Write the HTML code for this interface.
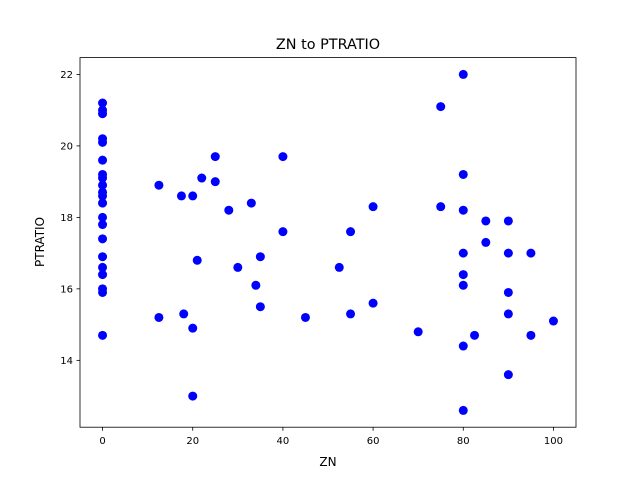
<!DOCTYPE html>
<html><head><meta charset="utf-8">
<style>
body{margin:0;background:#fff;}
svg{display:block;font-family:"DejaVu Sans","Liberation Sans",sans-serif;}
</style></head>
<body>
<svg id="chart" width="640" height="480" viewBox="0 0 640 480">
<rect width="640" height="480" fill="#fff"/>
<text x="328" y="49" font-size="14.4" text-anchor="middle">ZN to PTRATIO</text>
<g id="ticks"></g>
<g id="points"></g>
<rect x="80" y="57.6" width="496" height="369.6" fill="none" stroke="#000" stroke-width="0.8"/>
<text x="328" y="466" font-size="12" text-anchor="middle">ZN</text>
<text x="0" y="0" font-size="12" text-anchor="middle" transform="translate(44,242) rotate(-90)">PTRATIO</text>
</svg>
<script>
const xVals=[0,0,0,0,0,0,0,0,0,0,0,0,0,0,0,0,0,0,0,0,0,12.5,12.5,17.5,18,20,20,20,21,22,25,25,28,30,33,34,35,35,40,40,45,52.5,55,55,60,60,70,75,75,80,80,80,80,80,80,80,80,82.5,85,85,90,90,90,90,90,95,95,100];
const yVals=[21.2,21.0,20.9,20.2,20.1,19.6,19.2,19.1,18.9,18.7,18.6,18.4,18.0,17.8,17.4,16.9,16.6,16.4,16.0,15.9,14.7,18.9,15.2,18.6,15.3,18.6,14.9,13.0,16.8,19.1,19.7,19.0,18.2,16.6,18.4,16.1,16.9,15.5,19.7,17.6,15.2,16.6,17.6,15.3,18.3,15.6,14.8,21.1,18.3,22.0,19.2,18.2,17.0,16.4,16.1,14.4,12.6,14.7,17.9,17.3,17.9,17.0,15.9,15.3,13.6,17.0,14.7,15.1];
const xTicks=[0,20,40,60,80,100];
const yTicks=[14,16,18,20,22];
const X0=80,X1=576,Y0=427.2,Y1=57.6,xMin=-5,xMax=105,yMin=12.13,yMax=22.47;
const sx=v=>X0+(v-xMin)/(xMax-xMin)*(X1-X0);
const sy=v=>Y0-(v-yMin)/(yMax-yMin)*(Y0-Y1);
const NS="http://www.w3.org/2000/svg";
const tg=document.getElementById('ticks'),pg=document.getElementById('points');
function mk(t,a,p){const e=document.createElementNS(NS,t);for(const k in a)e.setAttribute(k,a[k]);p.appendChild(e);return e;}
xTicks.forEach(v=>{
 const l=mk('line',{x1:sx(v),x2:sx(v),y1:Y0,y2:Y0+3.5,stroke:'#000','stroke-width':0.8},tg);
 
 
 const t=mk('text',{x:sx(v),y:Y0+17,'font-size':10,'text-anchor':'middle'},tg);t.textContent=v;
 
 
});
yTicks.forEach(v=>{
 const l=mk('line',{x1:X0-3.5,x2:X0,y1:sy(v),y2:sy(v),stroke:'#000','stroke-width':0.8},tg);
 
 
 const t=mk('text',{x:X0-7,y:sy(v)+3.5,'font-size':10,'text-anchor':'end'},tg);t.textContent=v;
 
 
});
xVals.forEach((v,i)=>{
 const c=mk('circle',{cx:sx(v),cy:sy(yVals[i]),r:4.5,fill:'#0000ff'},pg);
 
 
});
</script>
</body></html>
